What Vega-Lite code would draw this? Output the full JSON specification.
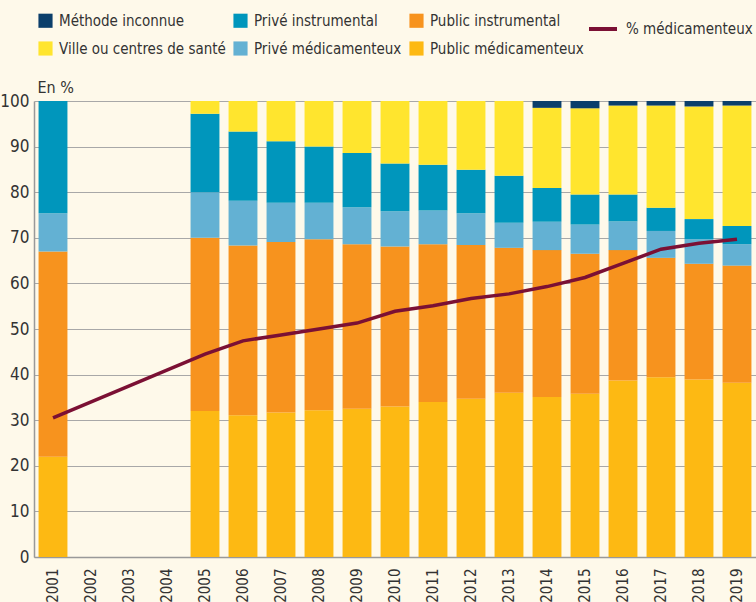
{
  "$schema": "https://vega.github.io/schema/vega-lite/v6.json",
  "width": 722,
  "height": 456,
  "autosize": "none",
  "padding": {"left": 34, "top": 101, "right": 0, "bottom": 45},
  "datasets": {
    "bars": [
      {"year": "2001", "cat": "Public médicamenteux", "v": 22.0},
      {"year": "2001", "cat": "Public instrumental", "v": 45.0},
      {"year": "2001", "cat": "Privé médicamenteux", "v": 8.4},
      {"year": "2001", "cat": "Privé instrumental", "v": 24.6},
      {"year": "2005", "cat": "Public médicamenteux", "v": 32.0},
      {"year": "2005", "cat": "Public instrumental", "v": 38.0},
      {"year": "2005", "cat": "Privé médicamenteux", "v": 10.0},
      {"year": "2005", "cat": "Privé instrumental", "v": 17.2},
      {"year": "2005", "cat": "Ville ou centres de santé", "v": 2.8},
      {"year": "2006", "cat": "Public médicamenteux", "v": 31.1},
      {"year": "2006", "cat": "Public instrumental", "v": 37.2},
      {"year": "2006", "cat": "Privé médicamenteux", "v": 9.8},
      {"year": "2006", "cat": "Privé instrumental", "v": 15.2},
      {"year": "2006", "cat": "Ville ou centres de santé", "v": 6.7},
      {"year": "2007", "cat": "Public médicamenteux", "v": 31.7},
      {"year": "2007", "cat": "Public instrumental", "v": 37.4},
      {"year": "2007", "cat": "Privé médicamenteux", "v": 8.6},
      {"year": "2007", "cat": "Privé instrumental", "v": 13.5},
      {"year": "2007", "cat": "Ville ou centres de santé", "v": 8.8},
      {"year": "2008", "cat": "Public médicamenteux", "v": 32.2},
      {"year": "2008", "cat": "Public instrumental", "v": 37.5},
      {"year": "2008", "cat": "Privé médicamenteux", "v": 8.0},
      {"year": "2008", "cat": "Privé instrumental", "v": 12.3},
      {"year": "2008", "cat": "Ville ou centres de santé", "v": 10.0},
      {"year": "2009", "cat": "Public médicamenteux", "v": 32.5},
      {"year": "2009", "cat": "Public instrumental", "v": 36.1},
      {"year": "2009", "cat": "Privé médicamenteux", "v": 8.1},
      {"year": "2009", "cat": "Privé instrumental", "v": 11.9},
      {"year": "2009", "cat": "Ville ou centres de santé", "v": 11.4},
      {"year": "2010", "cat": "Public médicamenteux", "v": 33.0},
      {"year": "2010", "cat": "Public instrumental", "v": 35.1},
      {"year": "2010", "cat": "Privé médicamenteux", "v": 7.7},
      {"year": "2010", "cat": "Privé instrumental", "v": 10.5},
      {"year": "2010", "cat": "Ville ou centres de santé", "v": 13.7},
      {"year": "2011", "cat": "Public médicamenteux", "v": 34.0},
      {"year": "2011", "cat": "Public instrumental", "v": 34.6},
      {"year": "2011", "cat": "Privé médicamenteux", "v": 7.4},
      {"year": "2011", "cat": "Privé instrumental", "v": 10.0},
      {"year": "2011", "cat": "Ville ou centres de santé", "v": 14.0},
      {"year": "2012", "cat": "Public médicamenteux", "v": 34.7},
      {"year": "2012", "cat": "Public instrumental", "v": 33.7},
      {"year": "2012", "cat": "Privé médicamenteux", "v": 7.0},
      {"year": "2012", "cat": "Privé instrumental", "v": 9.5},
      {"year": "2012", "cat": "Ville ou centres de santé", "v": 15.1},
      {"year": "2013", "cat": "Public médicamenteux", "v": 36.0},
      {"year": "2013", "cat": "Public instrumental", "v": 31.8},
      {"year": "2013", "cat": "Privé médicamenteux", "v": 5.5},
      {"year": "2013", "cat": "Privé instrumental", "v": 10.3},
      {"year": "2013", "cat": "Ville ou centres de santé", "v": 16.4},
      {"year": "2014", "cat": "Public médicamenteux", "v": 35.1},
      {"year": "2014", "cat": "Public instrumental", "v": 32.2},
      {"year": "2014", "cat": "Privé médicamenteux", "v": 6.2},
      {"year": "2014", "cat": "Privé instrumental", "v": 7.4},
      {"year": "2014", "cat": "Ville ou centres de santé", "v": 17.6},
      {"year": "2014", "cat": "Méthode inconnue", "v": 1.5},
      {"year": "2015", "cat": "Public médicamenteux", "v": 35.8},
      {"year": "2015", "cat": "Public instrumental", "v": 30.7},
      {"year": "2015", "cat": "Privé médicamenteux", "v": 6.4},
      {"year": "2015", "cat": "Privé instrumental", "v": 6.6},
      {"year": "2015", "cat": "Ville ou centres de santé", "v": 18.9},
      {"year": "2015", "cat": "Méthode inconnue", "v": 1.6},
      {"year": "2016", "cat": "Public médicamenteux", "v": 38.7},
      {"year": "2016", "cat": "Public instrumental", "v": 28.6},
      {"year": "2016", "cat": "Privé médicamenteux", "v": 6.3},
      {"year": "2016", "cat": "Privé instrumental", "v": 5.9},
      {"year": "2016", "cat": "Ville ou centres de santé", "v": 19.5},
      {"year": "2016", "cat": "Méthode inconnue", "v": 1.0},
      {"year": "2017", "cat": "Public médicamenteux", "v": 39.4},
      {"year": "2017", "cat": "Public instrumental", "v": 26.2},
      {"year": "2017", "cat": "Privé médicamenteux", "v": 5.9},
      {"year": "2017", "cat": "Privé instrumental", "v": 5.1},
      {"year": "2017", "cat": "Ville ou centres de santé", "v": 22.4},
      {"year": "2017", "cat": "Méthode inconnue", "v": 1.0},
      {"year": "2018", "cat": "Public médicamenteux", "v": 38.9},
      {"year": "2018", "cat": "Public instrumental", "v": 25.4},
      {"year": "2018", "cat": "Privé médicamenteux", "v": 5.4},
      {"year": "2018", "cat": "Privé instrumental", "v": 4.4},
      {"year": "2018", "cat": "Ville ou centres de santé", "v": 24.7},
      {"year": "2018", "cat": "Méthode inconnue", "v": 1.2},
      {"year": "2019", "cat": "Public médicamenteux", "v": 38.2},
      {"year": "2019", "cat": "Public instrumental", "v": 25.7},
      {"year": "2019", "cat": "Privé médicamenteux", "v": 4.7},
      {"year": "2019", "cat": "Privé instrumental", "v": 4.0},
      {"year": "2019", "cat": "Ville ou centres de santé", "v": 26.4},
      {"year": "2019", "cat": "Méthode inconnue", "v": 1.0}
    ],
    "line": [
      {"year": "2001", "pct": 30.5},
      {"year": "2005", "pct": 44.5},
      {"year": "2006", "pct": 47.4},
      {"year": "2007", "pct": 48.7},
      {"year": "2008", "pct": 50.0},
      {"year": "2009", "pct": 51.3},
      {"year": "2010", "pct": 53.9},
      {"year": "2011", "pct": 55.1},
      {"year": "2012", "pct": 56.7},
      {"year": "2013", "pct": 57.7},
      {"year": "2014", "pct": 59.3},
      {"year": "2015", "pct": 61.3},
      {"year": "2016", "pct": 64.4},
      {"year": "2017", "pct": 67.5},
      {"year": "2018", "pct": 68.8},
      {"year": "2019", "pct": 69.7}
    ]
  },
  "encoding": {
    "x": {
      "field": "year",
      "type": "ordinal",
      "scale": {
        "domain": ["2001","2002","2003","2004","2005","2006","2007","2008","2009","2010","2011","2012","2013","2014","2015","2016","2017","2018","2019"],
        "paddingInner": 0.24,
        "paddingOuter": 0.12
      },
      "axis": {
        "title": null,
        "labelAngle": -90,
        "labelAlign": "right",
        "labelBaseline": "middle",
        "labelPadding": 11,
        "labelFontSize": 15,
        "ticks": false,
        "grid": false
      }
    }
  },
  "layer": [
    {
      "data": {"name": "bars"},
      "transform": [
        {"calculate": "indexof(['Public médicamenteux','Public instrumental','Privé médicamenteux','Privé instrumental','Ville ou centres de santé','Méthode inconnue'], datum.cat)", "as": "ord"}
      ],
      "mark": {"type": "bar"},
      "encoding": {
        "y": {
          "field": "v",
          "type": "quantitative",
          "stack": "zero",
          "scale": {"domain": [0, 100], "nice": false},
          "axis": {
            "title": "En %",
            "titleAngle": 0,
            "titleAlign": "left",
            "titleBaseline": "bottom",
            "titleX": 3,
            "titleY": -6,
            "titleFontWeight": "normal",
            "titleFontSize": 16,
            "titleColor": "#333333",
            "values": [0,10,20,30,40,50,60,70,80,90,100],
            "ticks": false,
            "labelPadding": 5,
            "labelFontSize": 17,
            "grid": true
          }
        },
        "order": {"field": "ord", "type": "quantitative"},
        "color": {
          "field": "cat",
          "type": "nominal",
          "scale": {
            "domain": ["Méthode inconnue","Ville ou centres de santé","Privé instrumental","Privé médicamenteux","Public instrumental","Public médicamenteux"],
            "range": ["#0B3F6B","#FFE52E","#0096BC","#63B1D3","#F7931E","#FDB913"]
          },
          "legend": {
            "title": null,
            "orient": "none",
            "legendX": 4,
            "legendY": -88,
            "columns": 3,
            "symbolType": "square",
            "symbolSize": 200,
            "symbolStrokeWidth": 0,
            "labelFontSize": 15,
            "labelColor": "#333333",
            "labelOffset": 6,
            "columnPadding": 7,
            "rowPadding": 12,
            "labelLimit": 300
          }
        }
      }
    },
    {
      "data": {"name": "line"},
      "mark": {"type": "line", "strokeWidth": 3.5},
      "encoding": {
        "y": {"field": "pct", "type": "quantitative"},
        "stroke": {
          "datum": "% médicamenteux",
          "scale": {"domain": ["% médicamenteux"], "range": ["#7B1034"]},
          "legend": {
            "title": null,
            "orient": "none",
            "legendX": 553,
            "legendY": -88,
            "symbolType": "stroke",
            "symbolSize": 784,
            "symbolStrokeWidth": 4,
            "labelFontSize": 15,
            "labelColor": "#333333",
            "labelOffset": 7,
            "labelLimit": 300
          }
        }
      }
    }
  ],
  "config": {
    "background": "#FEF9EA",
    "font": "DejaVu Sans Condensed, DejaVu Sans, sans-serif",
    "view": {"stroke": null},
    "axis": {
      "labelColor": "#333333",
      "domainColor": "#999999",
      "domainWidth": 1.5,
      "gridColor": "#A8A8A8",
      "gridWidth": 1
    }
  }
}
